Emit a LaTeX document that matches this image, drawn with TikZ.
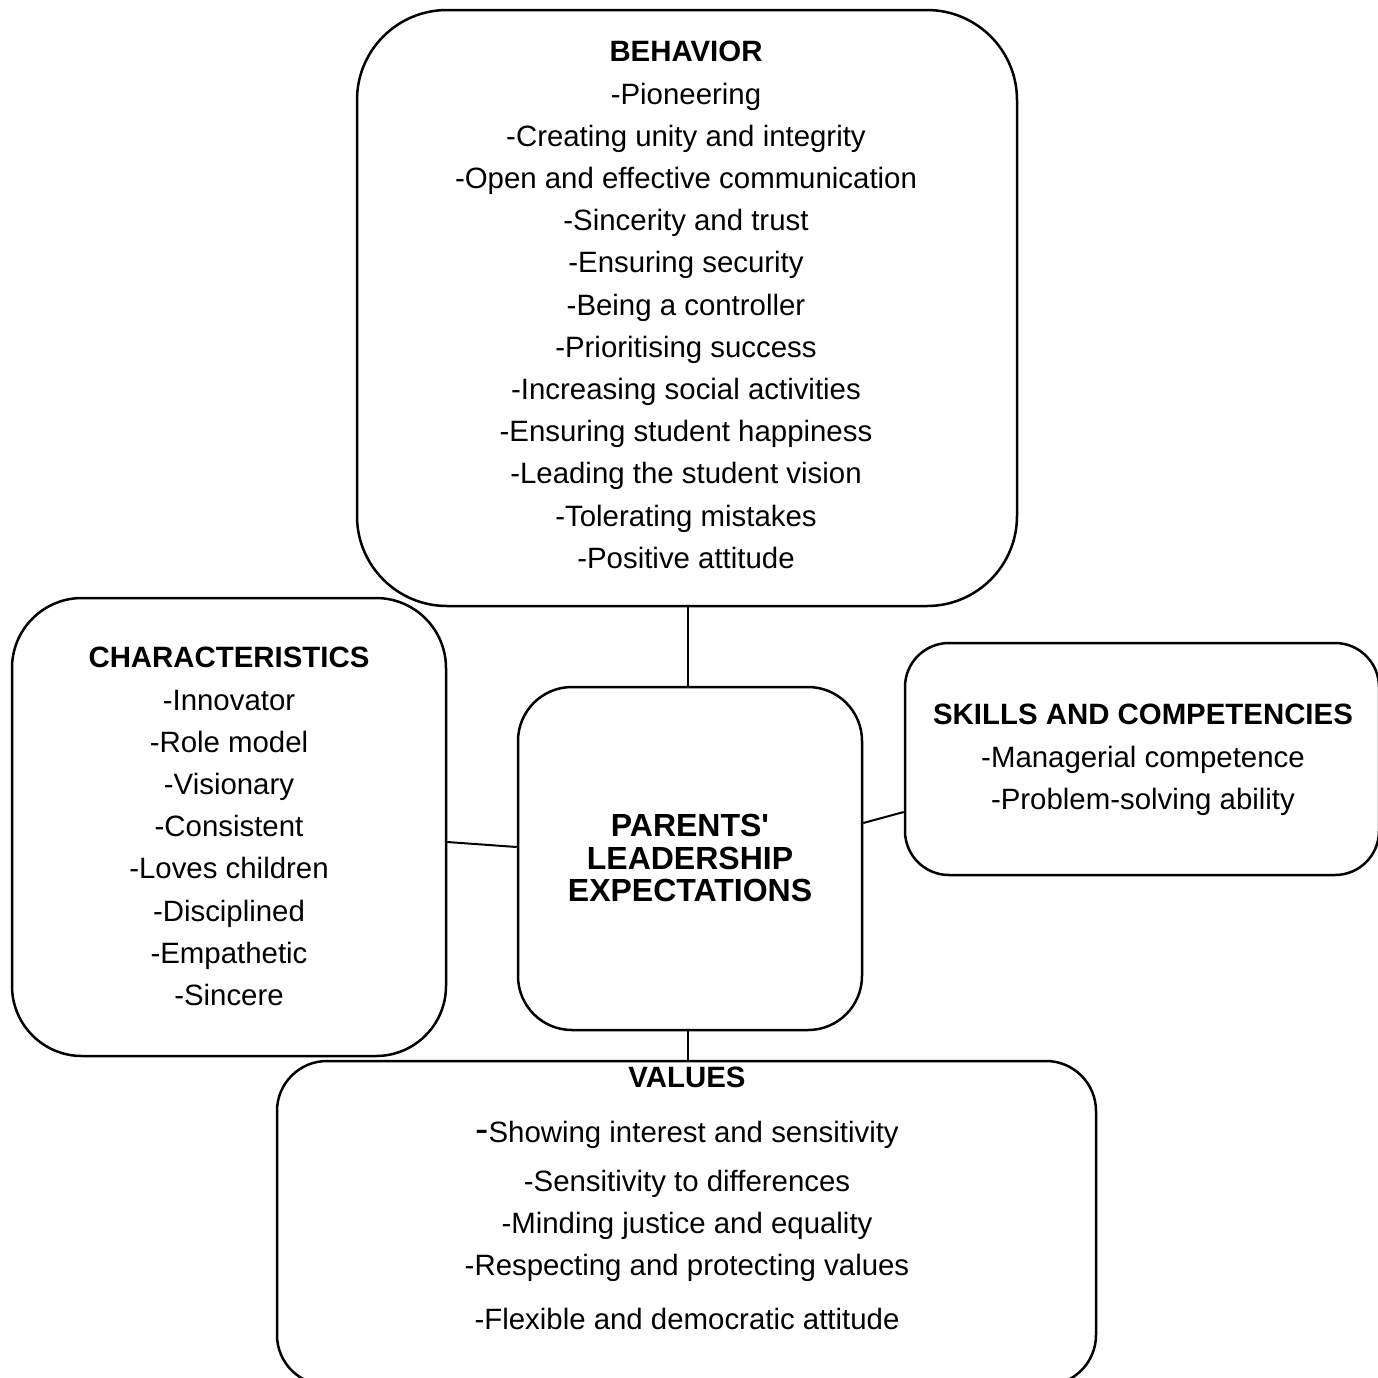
\documentclass[tikz,border=0pt]{standalone}
\usepackage{fontspec}
\setmainfont{Liberation Sans}
\newcommand{\straightquote}{\XeTeXglyph\XeTeXglyphindex "quotesingle"\relax}
\begin{document}
\begin{tikzpicture}[x=0.5pt,y=-0.5pt,
  box/.style={draw=black, line width=1.25pt, rounded corners=#1, inner sep=0pt, fill=none},
  body/.style={align=center, inner sep=0pt, anchor=north, font=\fontsize{14.7}{21.1}\selectfont},
  link/.style={draw=black, line width=1pt}]
\useasboundingbox (0,0) rectangle (1378,1378);
\clip (0,0) rectangle (1378,1378);
% boxes
\node[box=45pt, minimum width=330pt, minimum height=298pt] (beh) at (687,308) {};
\node[box=27pt, minimum width=172pt, minimum height=171.5pt] (ctr) at (690,858.5) {};
\node[box=35pt, minimum width=217pt, minimum height=229pt] (chr) at (229,827) {};
\node[box=22pt, minimum width=237pt, minimum height=116pt] (skl) at (1142,759) {};
\node[box=25pt, minimum width=409.5pt, minimum height=162pt] (val) at (686.5,1223) {};
% texts
\node[body] (behT) at (686,41) {\textbf{BEHAVIOR}\\-Pioneering\\-Creating unity and integrity\\-Open and effective communication\\-Sincerity and trust\\-Ensuring security\\-Being a controller\\-Prioritising success\\-Increasing social activities\\-Ensuring student happiness\\-Leading the student vision\\-Tolerating mistakes\\-Positive attitude};
\node[body] (chrT) at (229,647) {\textbf{CHARACTERISTICS}\\-Innovator\\-Role model\\-Visionary\\-Consistent\\-Loves children\\-Disciplined\\-Empathetic\\-Sincere};
\node[body] (sklT) at (1143,704) {\textbf{SKILLS AND COMPETENCIES}\\-Managerial competence\\-Problem-solving ability};
\node[body, font=\fontsize{16}{16.25}\selectfont\bfseries] (ctrT) at (690,814) {PARENTS\straightquote\\LEADERSHIP\\EXPECTATIONS};
\node[body, font=\fontsize{14.7}{21}\selectfont] (valT) at (687,1067) {\textbf{VALUES}\\[6.5pt]{\fontsize{20}{21}\selectfont -}Showing interest and sensitivity\\[3.5pt]-Sensitivity to differences\\-Minding justice and equality\\-Respecting and protecting values\\[6pt]-Flexible and democratic attitude};
% connectors
\draw[link] ([xshift=-1pt]ctr.north) -- ([xshift=-1pt]ctr.north |- beh.south);
\draw[link] ([yshift=-7.5pt]chr.east) -- ([yshift=5.75pt]ctr.west);
\draw[link] ([yshift=17.75pt]ctr.east) -- ([yshift=-26.5pt]skl.west);
\draw[link] ([xshift=-1pt]ctr.south) -- ([xshift=-1pt]ctr.south |- val.north);
\end{tikzpicture}
\end{document}
